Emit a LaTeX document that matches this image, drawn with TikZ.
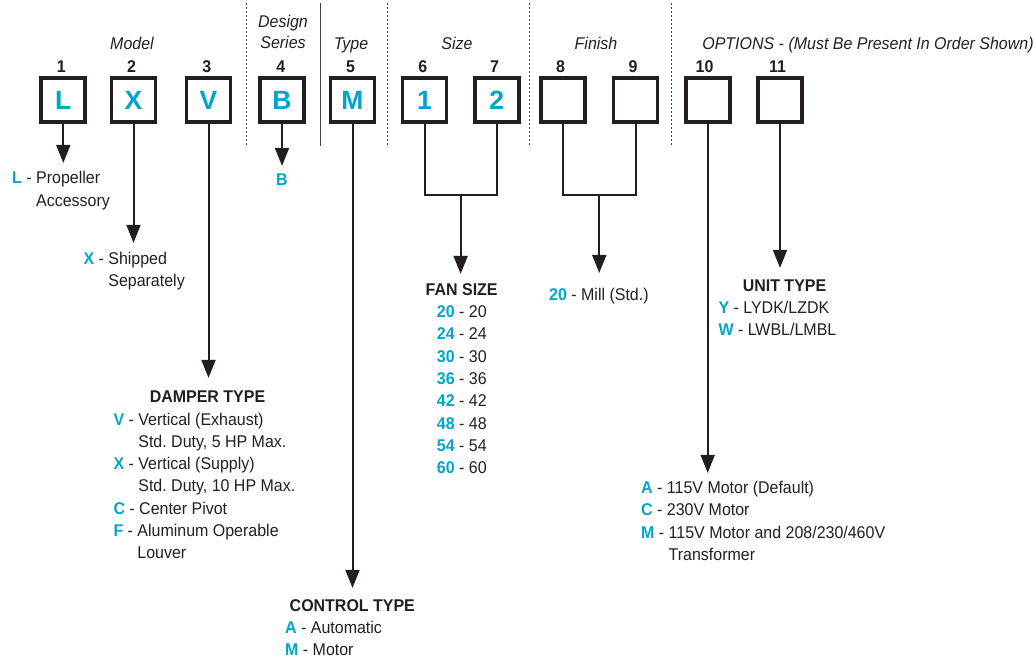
\documentclass[tikz,border=0pt]{standalone}
\usepackage{fontspec}
\setmainfont{Liberation Sans}[FakeStretch=0.94]
\newfontfamily\boxfont{Liberation Sans}
\usetikzlibrary{arrows.meta,calc}

\definecolor{keycyan}{RGB}{0,166,200}
\definecolor{ink}{RGB}{35,31,32}
\newcommand{\key}[1]{\textcolor{keycyan}{\textbf{#1}}}
\newcommand{\ind}[1]{\phantom{\textbf{#1} - }}
\frenchspacing

\begin{document}
\begin{tikzpicture}[x=1pt, y=-1pt,
    every node/.style={font=\fontsize{17}{22.3}\selectfont, text=ink, inner sep=0pt},
    codebox/.style={draw=ink, line width=3.8pt, minimum size=44pt,
        font=\boxfont\fontsize{26.5}{28}\selectfont\bfseries, text=keycyan},
    posnum/.style={font=\fontsize{17}{18}\selectfont\bfseries, anchor=base},
    caption/.style={font=\fontsize{17}{20}\selectfont\itshape, anchor=base},
    head/.style={font=\fontsize{17}{20}\selectfont\bfseries, anchor=base},
    list/.style={anchor=base west},
    conn/.style={draw=ink, line width=2pt},
    arr/.style={conn, -{Triangle[width=14pt,length=18pt]}},
    sep/.style={draw=ink!85, line width=0.9pt},
    dsep/.style={sep, dash pattern=on 2.5pt off 1.5pt}]
    \useasboundingbox (0,0) rectangle (1036,663);

    % column headings
    \node[caption] (cmodel) at (132,50) {Model};
    \node[caption] (cdesign) at (283,27.3) {Design};
    \node[caption] (cseries) at (283,49) {Series};
    \node[caption] (ctype) at (351,50) {Type};
    \node[caption] (csize) at (457,50) {Size};
    \node[caption] (cfinish) at (596,50) {Finish};
    \node[caption] (copt) at (868,50) {OPTIONS - (Must Be Present In Order Shown)};

    % separators
    \draw[dsep] (246.7,3) -- (246.7,146);
    \draw[sep] (320.7,3) -- (320.7,146);
    \draw[dsep] (387.7,3) -- (387.7,146);
    \draw[dsep] (529,3) -- (529,146);
    \draw[dsep] (671,3) -- (671,146);

    % code boxes
    \node[codebox] (b1) at (63.3,100) {L};
    \node[codebox] (b2) at (133.5,100) {X};
    \node[codebox] (b3) at (208.5,100) {V};
    \node[codebox] (b4) at (282,100) {B};
    \node[codebox] (b5) at (352.5,100) {M};
    \node[codebox] (b6) at (424.5,100) {1};
    \node[codebox] (b7) at (496.7,100) {2};
    \node[codebox] (b8) at (563,100) {};
    \node[codebox] (b9) at (635.5,100) {};
    \node[codebox] (b10) at (707.7,100) {};
    \node[codebox] (b11) at (780,100) {};

    % position numbers
    \node[posnum] (n1) at (61.3,72.3) {1};
    \node[posnum] (n2) at (131.5,72.3) {2};
    \node[posnum] (n3) at (206.8,72.3) {3};
    \node[posnum] (n4) at (280.8,72.3) {4};
    \node[posnum] (n5) at (350.5,72.3) {5};
    \node[posnum] (n6) at (422.8,72.3) {6};
    \node[posnum] (n7) at (494.5,72.3) {7};
    \node[posnum] (n8) at (560.5,72.3) {8};
    \node[posnum] (n9) at (633,72.3) {9};
    \node[posnum] (n10) at (704.5,72.3) {10};
    \node[posnum] (n11) at (777.5,72.3) {11};

    % connectors
    \path (b1.south) ++(0,39) coordinate (tL);
    \path (b2.south) ++(0,119) coordinate (tX);
    \path (b3.south) ++(0,254) coordinate (tV);
    \path (b4.south) ++(0,42) coordinate (tB);
    \path (b5.south) ++(0,464) coordinate (tM);
    \path (b10.south) ++(0,349) coordinate (tA);
    \path (b11.south) ++(0,144) coordinate (tY);
    \draw[arr] (b1.south) -- (tL);
    \draw[arr] (b2.south) -- (tX);
    \draw[arr] (b3.south) -- (tV);
    \draw[arr] (b4.south) -- (tB);
    \draw[arr] (b5.south) -- (tM);
    \draw[arr] (b10.south) -- (tA);
    \draw[arr] (b11.south) -- (tY);

    \path ($(b6.south)!0.5!(b7.south)$) ++(0,71) coordinate (jsize);
    \path (jsize) ++(0,79) coordinate (tsize);
    \draw[conn] (b6.south) -- (b6.south |- jsize) -- (b7.south |- jsize) -- (b7.south);
    \draw[arr] (jsize) -- (tsize);

    \path ($(b8.south)!0.5!(b9.south)$) ++(0,71) coordinate (jfinish);
    \path (jfinish) ++(0,78) coordinate (tfinish);
    \draw[conn] (b8.south) -- (b8.south |- jfinish) -- (b9.south |- jfinish) -- (b9.south);
    \draw[arr] (jfinish) -- (tfinish);

    % option lists
    \node[list] (lmodel) at (12,184) {\begin{tabular}[t]{@{}l@{}}
        \key{L} - Propeller\\ \ind{L}Accessory\end{tabular}};
    \node[head, text=keycyan] (lseries) at (282,185.7) {B};
    \node[list] (lship) at (83.3,264) {\begin{tabular}[t]{@{}l@{}}
        \key{X} - Shipped\\ \ind{X}Separately\end{tabular}};

    \node[head] (hdamper) at (207.5,402.5) {DAMPER TYPE};
    \node[list] (ldamper) at (113.3,425) {\begin{tabular}[t]{@{}l@{}}
        \key{V} - Vertical (Exhaust)\\ \ind{V}Std. Duty, 5 HP Max.\\
        \key{X} - Vertical (Supply)\\ \ind{X}Std. Duty, 10 HP Max.\\
        \key{C} - Center Pivot\\
        \key{F} - Aluminum Operable\\ \ind{F}Louver\end{tabular}};

    \node[head] (hcontrol) at (352.3,611) {CONTROL TYPE};
    \node[list] (lcontrol) at (285,633.3) {\begin{tabular}[t]{@{}l@{}}
        \key{A} - Automatic\\ \key{M} - Motor\end{tabular}};

    \node[head] (hfan) at (461.7,295) {FAN SIZE};
    \node[list] (lfan) at (436.7,317.5) {\begin{tabular}[t]{@{}l@{}}
        \key{20} - 20\\ \key{24} - 24\\ \key{30} - 30\\ \key{36} - 36\\
        \key{42} - 42\\ \key{48} - 48\\ \key{54} - 54\\ \key{60} - 60\end{tabular}};

    \node[list] (lfinish) at (549,300) {\key{20} - Mill (Std.)};

    \node[head] (hunit) at (784.5,291) {UNIT TYPE};
    \node[list] (lunit) at (718.3,313.5) {\begin{tabular}[t]{@{}l@{}}
        \key{Y} - LYDK/LZDK\\ \key{W} - LWBL/LMBL\end{tabular}};

    \node[list] (lmotor) at (641,493.5) {\begin{tabular}[t]{@{}l@{}}
        \key{A} - 115V Motor (Default)\\ \key{C} - 230V Motor\\
        \key{M} - 115V Motor and 208/230/460V\\ \ind{M}Transformer\end{tabular}};
\end{tikzpicture}
\end{document}
